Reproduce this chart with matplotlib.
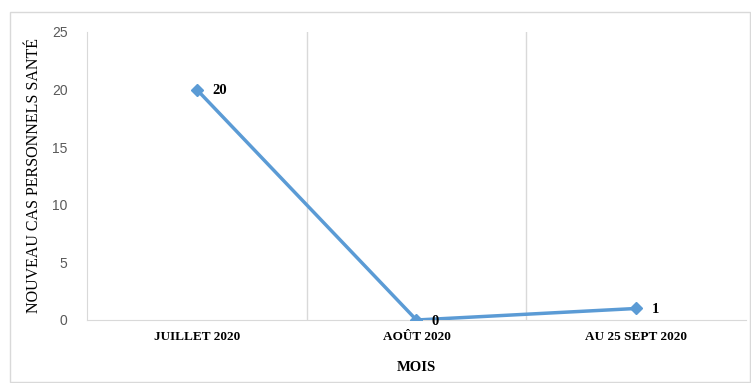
import matplotlib
matplotlib.use("Agg")
import matplotlib.pyplot as plt
from matplotlib.patches import Rectangle

categories = ["JUILLET 2020", "AOÛT 2020", "AU 25 SEPT 2020"]
cases = [20, 0, 1]
y_ticks = [0, 5, 10, 15, 20, 25]

LINE = "#5B9BD5"
GRID = "#D9D9D9"

fig = plt.figure(figsize=(7.51, 3.83), dpi=100)
ax = fig.add_axes([0.1158, 0.1645, 0.8775, 0.752])

x = list(range(len(categories)))
ax.plot(x, cases, color=LINE, linewidth=2.5, marker="D", markersize=6,
        solid_capstyle="round", zorder=3)

for xi, v in zip(x, cases):
    ax.annotate(str(v), (xi, v), xytext=(11, -1), textcoords="offset points",
                va="center", ha="left", fontsize=10.5, fontweight="bold",
                family="Liberation Serif", color="black")

ax.set_xlim(-0.5, len(categories) - 0.5)
ax.set_ylim(0, 25)
ax.set_yticks(y_ticks)
ax.set_xticks(x)
ax.set_xticklabels(categories, family="Liberation Serif", fontweight="bold",
                   fontsize=9.5)

# category boundaries as vertical gridlines
for b in [0.5, 1.5]:
    ax.axvline(b, color=GRID, linewidth=1, zorder=1)

for s in ["top", "right"]:
    ax.spines[s].set_visible(False)
ax.spines["left"].set_color(GRID)
ax.spines["bottom"].set_color(GRID)
ax.tick_params(axis="both", length=0)
ax.tick_params(axis="y", pad=14, labelcolor="#595959", labelsize=10)
ax.tick_params(axis="x", pad=8)
for lbl in ax.get_yticklabels():
    lbl.set_family("Liberation Sans")

ax.set_ylabel("NOUVEAU CAS PERSONNELS SANTÉ", family="Liberation Serif",
              fontsize=11.5, labelpad=7)
ax.set_xlabel("MOIS", family="Liberation Serif", fontweight="bold",
              fontsize=10.5, labelpad=13)

fig.patches.append(Rectangle((10 / 751, 1 / 383), 740 / 751, 370 / 383,
                             transform=fig.transFigure, fill=False,
                             edgecolor=GRID, linewidth=1))

fig.savefig("out.png", dpi=100)
